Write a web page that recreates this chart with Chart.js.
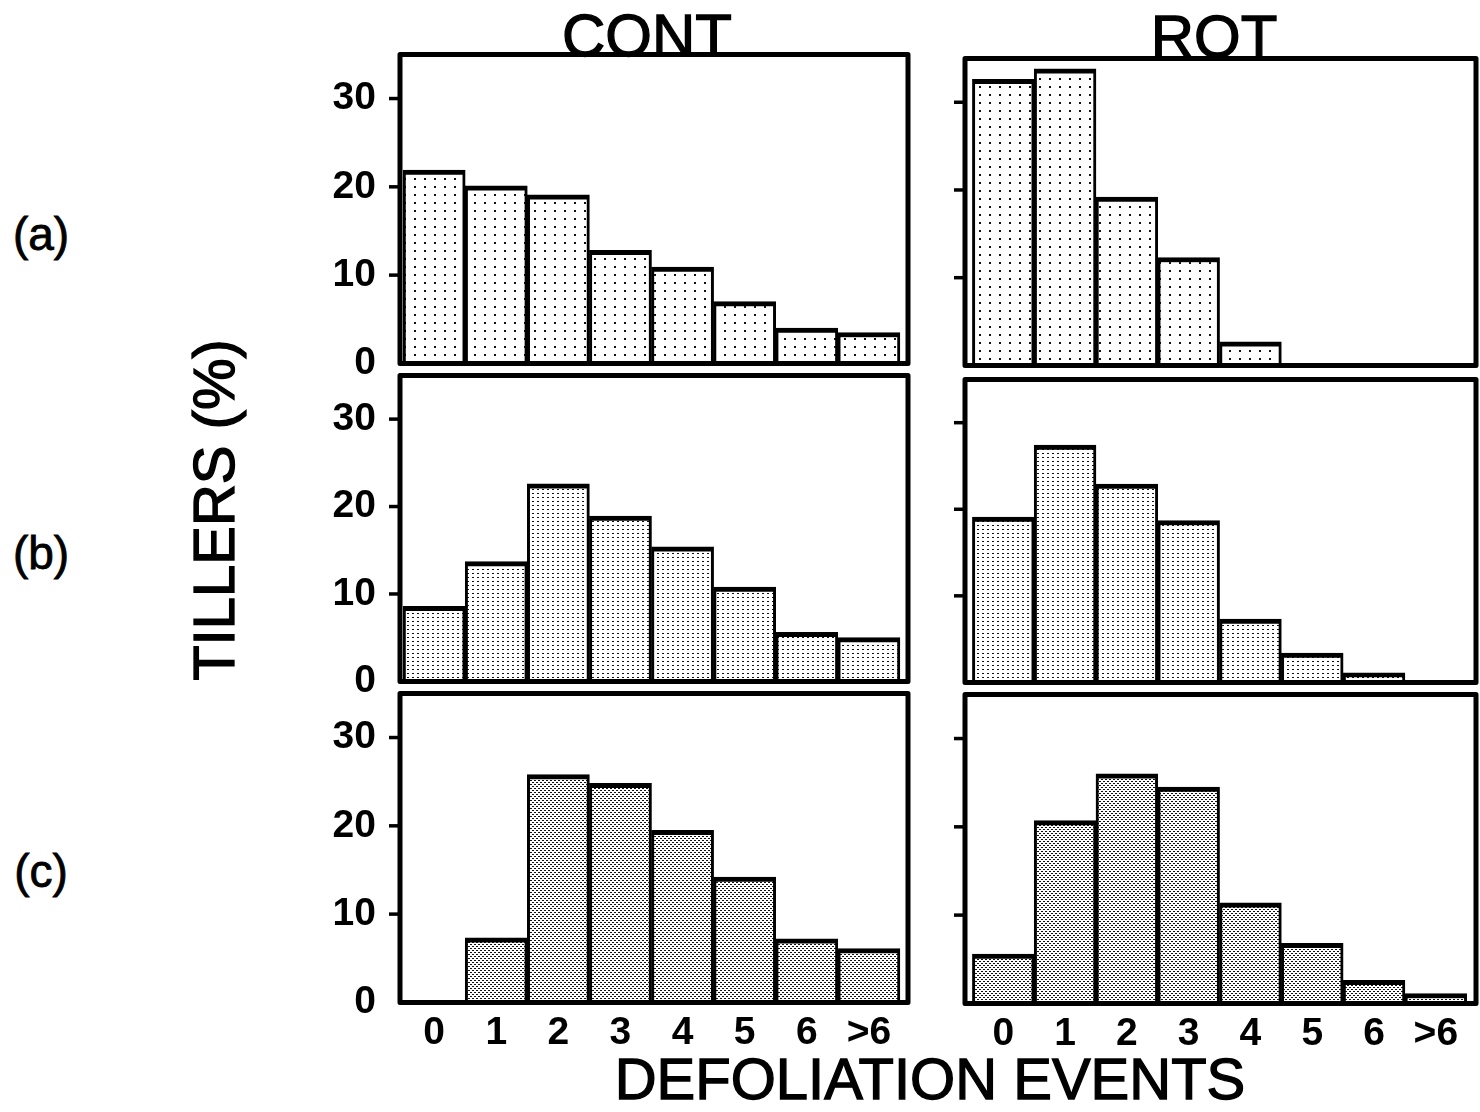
<!DOCTYPE html>
<html>
<head>
<meta charset="utf-8">
<title>Tillers by defoliation events</title>
<script src="https://cdn.jsdelivr.net/npm/chart.js@4.4.1/dist/chart.umd.min.js"></script>
<style>
  body { margin: 0; background: #fff; }
  #fig { position: relative; width: 1480px; height: 1112px; overflow: hidden;
         font-family: "Liberation Sans", Arial, Helvetica, sans-serif; color: #000; }
  #fig canvas { position: absolute; }
  .lbl { position: absolute; white-space: nowrap; line-height: 1; transform: translate(-50%, -50%);
         -webkit-text-stroke: 1.3px #000; }
</style>
</head>
<body>
<div id="fig">
  <div class="lbl" style="left:647px; top:36px; font-size:60px;">CONT</div>
  <div class="lbl" style="left:1214px; top:37px; font-size:60px;">ROT</div>
  <div class="lbl" style="left:930px; top:1079px; font-size:58px;">DEFOLIATION EVENTS</div>
  <div class="lbl" style="left:214px; top:510px; font-size:58px; transform: translate(-50%, -50%) rotate(-90deg);">TILLERS (%)</div>
  <div class="lbl" style="left:41px; top:234px; font-size:46px; -webkit-text-stroke: 0.8px #000;">(a)</div>
  <div class="lbl" style="left:41px; top:553px; font-size:46px; -webkit-text-stroke: 0.8px #000;">(b)</div>
  <div class="lbl" style="left:41px; top:871px; font-size:46px; -webkit-text-stroke: 0.8px #000;">(c)</div>
</div>
<script>
// categorias del eje x
const categories = ['0', '1', '2', '3', '4', '5', '6', '>6'];

// % de macollos por numero de defoliaciones
const contA = [21.9, 20.1, 19.1, 12.8, 10.9, 7.0, 4.0, 3.5];
const rotA  = [32.6, 33.8, 19.2, 12.3, 2.7, 0, 0, 0];
const contB = [8.6, 13.7, 22.6, 18.9, 15.4, 10.8, 5.6, 5.0];
const rotB  = [19.1, 27.4, 22.9, 18.7, 7.3, 3.4, 1.1, 0];
const contC = [0, 7.3, 25.8, 24.8, 19.5, 14.2, 7.2, 6.1];
const rotC  = [5.6, 20.7, 26.0, 24.5, 11.4, 6.8, 2.6, 1.1];

// etiquetas del eje y (solo columna izquierda)
const yTickLabels = [0, 10, 20, 30];
const yMax = 35;

// area de cada panel en pixeles de la pagina: [izq, arriba, der, abajo]
const panels = [
    { values: contA, row: 0, col: 0, box: [400, 54, 908, 363] },
    { values: rotA,  row: 0, col: 1, box: [965, 58, 1476, 365] },
    { values: contB, row: 1, col: 0, box: [400, 375, 908, 681] },
    { values: rotB,  row: 1, col: 1, box: [965, 379, 1476, 682] },
    { values: contC, row: 2, col: 0, box: [400, 693, 908, 1002] },
    { values: rotC,  row: 2, col: 1, box: [965, 694, 1476, 1003] }
];

// margen del eje x para que las barras no toquen el marco
const xRange = [[-0.55, 7.63], [-0.62, 7.65]];

// tramas punteadas: cada fila es mas densa que la anterior
function trama(w, h, puntos) {
    const c = document.createElement('canvas');
    c.width = w; c.height = h;
    const g = c.getContext('2d');
    g.fillStyle = '#fff';
    g.fillRect(0, 0, w, h);
    g.fillStyle = '#111';
    puntos.forEach(([x, y, pw, ph]) => g.fillRect(x, y, pw, ph));
    return g.createPattern(c, 'repeat');
}
const tramas = [
    trama(10, 8, [[4, 3, 2, 2]]),
    trama(5, 4, [[2, 1, 2, 1]]),
    trama(4, 4, [[0, 0, 2, 1], [2, 2, 2, 1]])
];

// marco grueso y marcas del eje y
const marco = {
    id: 'marco',
    afterDatasetsDraw(chart) {
        const { ctx, chartArea: a } = chart;
        const y = chart.scales.y;
        ctx.save();
        ctx.strokeStyle = '#000';
        ctx.lineWidth = 5;
        ctx.lineJoin = 'round';
        ctx.strokeRect(a.left, a.top, a.right - a.left, a.bottom - a.top);
        ctx.lineWidth = 3.5;
        y.ticks.forEach(t => {
            if (t.value <= 0 || t.value >= y.max) return;
            const largo = t.value % 10 === 0 ? 11 : 6;
            const py = y.getPixelForValue(t.value);
            ctx.beginPath();
            ctx.moveTo(a.left - largo, py);
            ctx.lineTo(a.left, py);
            ctx.stroke();
        });
        ctx.restore();
    }
};

Chart.defaults.font.family = '"Liberation Sans", Arial, Helvetica, sans-serif';
Chart.defaults.color = '#000';

const PAD = 28, EJE_Y = 100, EJE_X = 60;
const fig = document.getElementById('fig');

panels.forEach(p => {
    const [l, t, r, b] = p.box;
    const cv = document.createElement('canvas');
    cv.width = r - l + EJE_Y + PAD;
    cv.height = b - t + PAD + EJE_X;
    fig.appendChild(cv);

    const chart = new Chart(cv, {
        type: 'bar',
        data: {
            datasets: [{
                data: p.values.map((v, i) => ({ x: i, y: v })),
                backgroundColor: tramas[p.row],
                borderColor: '#000',
                borderWidth: { top: 5, left: 3, right: 3, bottom: 0 },
                barPercentage: 1,
                categoryPercentage: 1
            }]
        },
        options: {
            responsive: false,
            maintainAspectRatio: false,
            animation: false,
            devicePixelRatio: 1,
            layout: { padding: { top: PAD, right: PAD, left: 0, bottom: 0 } },
            plugins: { legend: { display: false }, tooltip: { enabled: false } },
            scales: {
                x: {
                    type: 'linear',
                    offset: false,
                    min: xRange[p.col][0],
                    max: xRange[p.col][1],
                    afterBuildTicks: s => { s.ticks = categories.map((c, i) => ({ value: i })); },
                    afterFit: s => { s.height = EJE_X; },
                    grid: { display: false, drawTicks: false, offset: false },
                    border: { display: false },
                    ticks: {
                        display: p.row === 2,
                        autoSkip: false,
                        maxRotation: 0,
                        padding: 7,
                        font: { size: 39, weight: 'bold' },
                        callback: v => categories[v]
                    }
                },
                y: {
                    min: 0,
                    max: yMax,
                    afterFit: s => { s.width = EJE_Y; },
                    grid: { display: false, drawTicks: false },
                    border: { display: false },
                    ticks: {
                        stepSize: 5,
                        padding: 24,
                        font: { size: 39, weight: 'bold' },
                        callback: v => (p.col === 0 && yTickLabels.includes(v)) ? String(v) : ''
                    }
                }
            }
        },
        plugins: [marco]
    });

    // ajustar el lienzo hasta que el area del grafico coincida con el panel
    for (let k = 0; k < 3; k++) {
        const a = chart.chartArea;
        const dw = (r - l) - (a.right - a.left);
        const dh = (b - t) - (a.bottom - a.top);
        if (Math.abs(dw) < 0.5 && Math.abs(dh) < 0.5) break;
        chart.resize(chart.width + dw, chart.height + dh);
    }
    const a = chart.chartArea;
    cv.style.left = (l - a.left) + 'px';
    cv.style.top = (t - a.top) + 'px';
});
</script>
</body>
</html>
